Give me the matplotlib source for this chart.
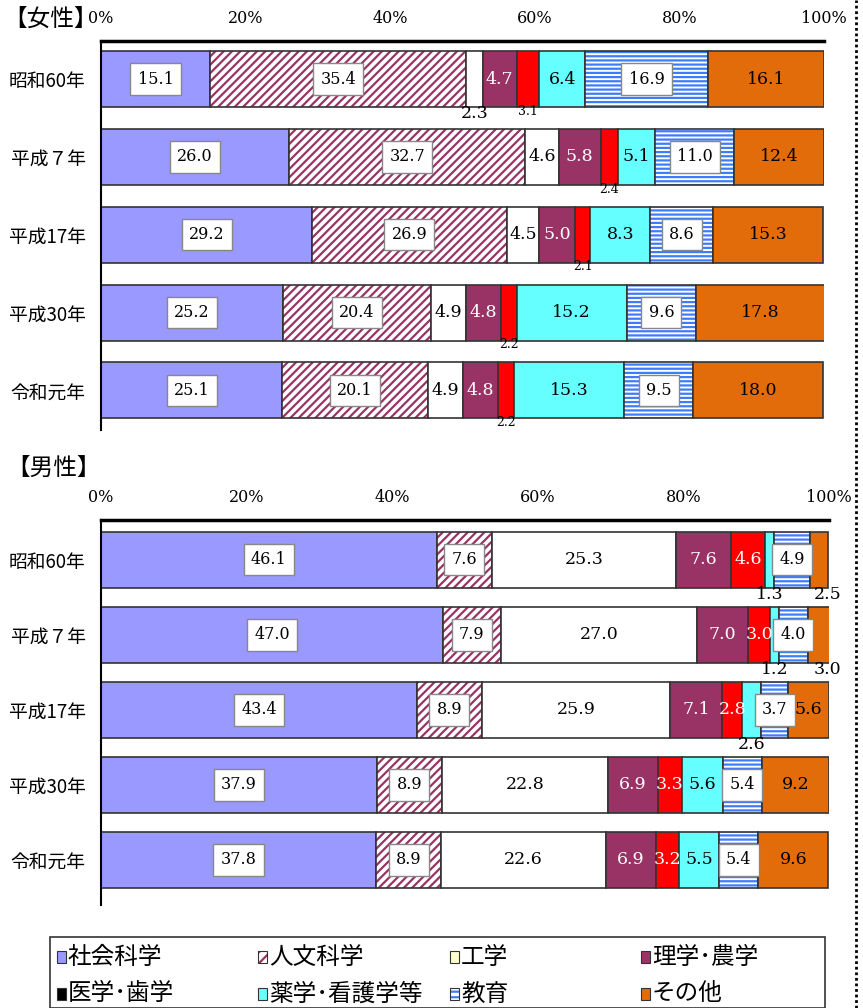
import matplotlib.pyplot as plt
from matplotlib.patches import Rectangle
from matplotlib.lines import Line2D
import numpy as np

plt.rcParams['hatch.linewidth'] = 1.6
JP = 'Noto Sans CJK JP'
NUM = 'DejaVu Serif'

years = ['昭和60年', '平成７年', '平成17年', '平成30年', '令和元年']
fields = ['社会科学', '人文科学', '工学', '理学･農学', '医学･歯学', '薬学･看護学等', '教育', 'その他']
xticks = [0, 20, 40, 60, 80, 100]

# female shares (%), one list per field, in order of years
f_social = [15.1, 26.0, 29.2, 25.2, 25.1]
f_human = [35.4, 32.7, 26.9, 20.4, 20.1]
f_eng = [2.3, 4.6, 4.5, 4.9, 4.9]
f_sci = [4.7, 5.8, 5.0, 4.8, 4.8]
f_med = [3.1, 2.4, 2.1, 2.2, 2.2]
f_phar = [6.4, 5.1, 8.3, 15.2, 15.3]
f_edu = [16.9, 11.0, 8.6, 9.6, 9.5]
f_other = [16.1, 12.4, 15.3, 17.8, 18.0]

# male shares (%)
m_social = [46.1, 47.0, 43.4, 37.9, 37.8]
m_human = [7.6, 7.9, 8.9, 8.9, 8.9]
m_eng = [25.3, 27.0, 25.9, 22.8, 22.6]
m_sci = [7.6, 7.0, 7.1, 6.9, 6.9]
m_med = [4.6, 3.0, 2.8, 3.3, 3.2]
m_phar = [1.3, 1.2, 2.6, 5.6, 5.5]
m_edu = [4.9, 4.0, 3.7, 5.4, 5.4]
m_other = [2.5, 3.0, 5.6, 9.2, 9.6]

female = [f_social, f_human, f_eng, f_sci, f_med, f_phar, f_edu, f_other]
male = [m_social, m_human, m_eng, m_sci, m_med, m_phar, m_edu, m_other]

# facecolor, hatch, hatch colour
styles = [
    ('#9999FF', None, None),
    ('white', '////', '#993366'),
    ('white', None, None),
    ('#993366', None, None),
    ('#FF0000', None, None),
    ('#66FFFF', None, None),
    ('white', '----', '#3D7BFF'),
    ('#E36C0A', None, None),
]
legend_colors = ['#9999FF', None, '#FFFFCC', '#993366', '#000000', '#66FFFF', None, '#E36C0A']


def label_kind(panel, i, v):
    if i in (0, 1, 6):
        return 'box'
    if i == 3:
        return 'white'
    if panel == 'f':
        if i == 2 and v < 3:
            return 'below'
        if i == 4:
            return 'below_small'
        return 'black'
    if i == 4:
        return 'white'
    if i == 5 and v < 3:
        return 'below'
    if i == 7 and v < 4:
        return 'below_right'
    return 'black'


def draw_panel(ax, data, panel, height):
    y = np.arange(len(years))
    left = np.zeros(len(years))
    for i, vals in enumerate(data):
        vals = np.array(vals)
        fc, hatch, hc = styles[i]
        if hatch:
            ax.barh(y, vals, left=left, height=height, color=fc, hatch=hatch,
                    edgecolor=hc, linewidth=0)
            ax.barh(y, vals, left=left, height=height, color='none',
                    edgecolor='#333333', linewidth=1.2)
        else:
            ax.barh(y, vals, left=left, height=height, color=fc,
                    edgecolor='#333333', linewidth=1.2)
        for j, v in enumerate(vals):
            cx = left[j] + v / 2
            kind = label_kind(panel, i, v)
            txt = f'{v:.1f}'
            below = j + height / 2 - 0.03
            if kind == 'box':
                ax.text(cx, j, txt, ha='center', va='center', fontsize=11.5, family=NUM,
                        bbox=dict(boxstyle='square,pad=0.45', fc='white', ec='#888888', lw=1))
            elif kind == 'white':
                ax.text(cx, j, txt, ha='center', va='center', fontsize=12.5, family=NUM, color='white')
            elif kind == 'black':
                ax.text(cx, j, txt, ha='center', va='center', fontsize=12.5, family=NUM, color='black')
            elif kind == 'below':
                ax.text(cx, below, txt, ha='center', va='top', fontsize=12.5, family=NUM)
            elif kind == 'below_small':
                ax.text(cx, below, txt, ha='center', va='top', fontsize=9, family=NUM)
            elif kind == 'below_right':
                ax.text(cx + 1.2, below, txt, ha='center', va='top', fontsize=12.5, family=NUM)
        left = left + vals

    ax.set_xlim(0, 100)
    ax.set_yticks(y)
    ax.set_yticklabels(years, family=JP, fontsize=13.5)
    ax.xaxis.tick_top()
    ax.set_xticks(xticks)
    ax.set_xticklabels([f'{t}%' for t in xticks], family=NUM, fontsize=11.5)
    ax.tick_params(axis='x', length=0, pad=10)
    ax.tick_params(axis='y', length=0, pad=11)
    for s in ('right', 'bottom'):
        ax.spines[s].set_visible(False)
    ax.spines['top'].set_linewidth(2.5)
    ax.spines['left'].set_linewidth(1.5)


W, H = 863, 1008
fig = plt.figure(figsize=(W / 100, H / 100), dpi=100)

ax1 = fig.add_axes([101 / W, 1 - 430 / H, 723 / W, 389 / H])
draw_panel(ax1, female, 'f', 0.72)
ax1.set_ylim(4.51, -0.49)

ax2 = fig.add_axes([101 / W, 1 - 905 / H, 728 / W, 385 / H])
draw_panel(ax2, male, 'm', 0.75)
ax2.set_ylim(4.6, -0.53)

fig.text(3 / W, 1 - 19 / H, '【女性】', family=JP, fontsize=17, va='center', ha='left')
fig.text(6 / W, 1 - 468 / H, '【男性】', family=JP, fontsize=17, va='center', ha='left')

# legend box drawn by hand so the columns sit like the original
fig.add_artist(Rectangle((50 / W, 0), 775 / W, 1 - 937 / H - 0, transform=fig.transFigure,
                         fc='white', ec='#333333', lw=1.2))
col_x = [57, 258, 450, 641]
row_y = [957, 994]
for k, name in enumerate(fields):
    px = col_x[k % 4]
    py = row_y[k // 4]
    fc, hatch, hc = styles[k]
    box = ((px / W, 1 - (py + 6) / H), 9 / W, 12 / H)
    if hatch:
        fig.add_artist(Rectangle(*box, transform=fig.transFigure,
                                 fc='white', hatch='///' if k == 1 else '---', ec=hc, lw=0))
        fig.add_artist(Rectangle(*box, transform=fig.transFigure,
                                 fc='none', ec='#333333', lw=0.8))
    else:
        fig.add_artist(Rectangle(*box, transform=fig.transFigure,
                                 fc=legend_colors[k], ec='#333333', lw=0.8))
    fig.text((px + 11) / W, 1 - py / H, name, family=JP, fontsize=17, va='center', ha='left')

# dotted frame edge on the right
fig.add_artist(Line2D([856 / W, 856 / W], [0, 1], transform=fig.transFigure,
                      color='black', lw=2, linestyle=(0, (1, 1))))

fig.savefig('out.png', dpi=100)
